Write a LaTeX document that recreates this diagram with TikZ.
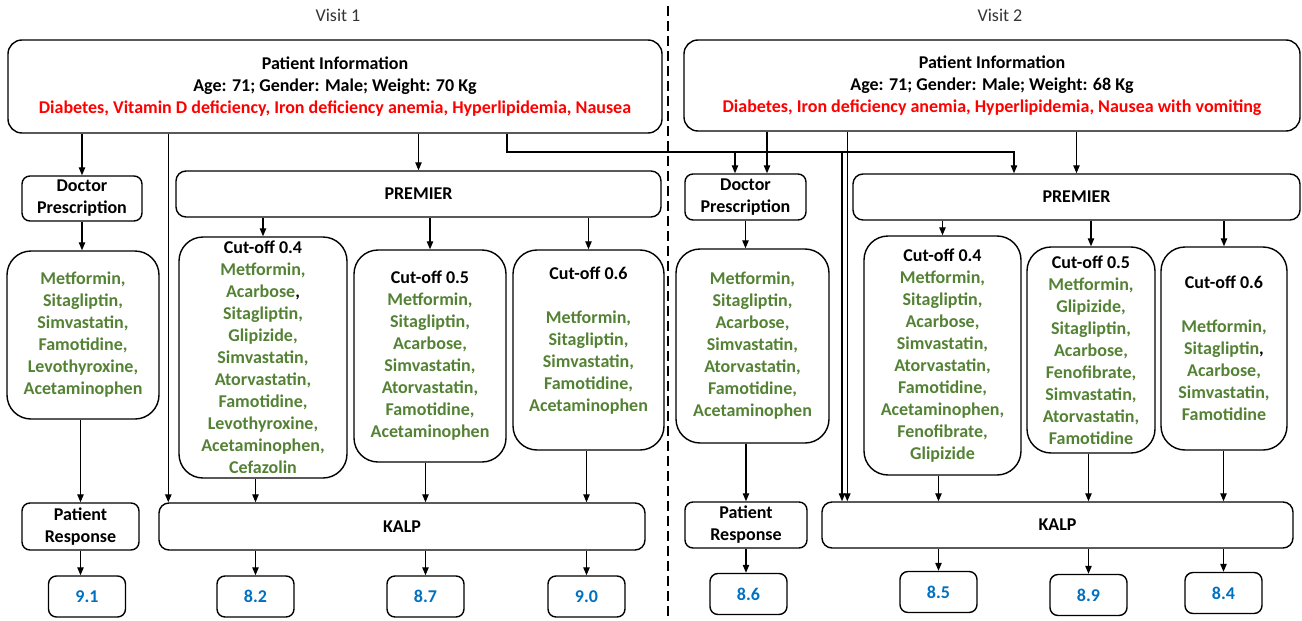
\documentclass[tikz,border=0pt]{standalone}
\usepackage{fontspec}
\setmainfont{Carlito}
\usetikzlibrary{arrows.meta}

\definecolor{druggreen}{HTML}{548235}
\definecolor{diseasered}{HTML}{FF0000}
\definecolor{scoreblue}{HTML}{0070C0}

\begin{document}
\begin{tikzpicture}[x = 0.5pt, y = -0.5pt,
	box/.style = {draw, line width = 0.7pt, rounded corners = #1, align = center, inner sep = 0pt,
		font = \fontsize{9}{11}\selectfont\bfseries, text = black},
	box/.default = 5pt,
	drugs/.style = {box = 12pt, text = druggreen},
	score/.style = {box = 4pt, minimum width = 38.5pt, minimum height = 20.5pt, text = scoreblue},
	link/.style = {line width = 0.65pt},
	arr/.style = {link, -{Triangle[length = 4pt, width = 3.2pt]}}
	]
	%	canvas
	\useasboundingbox (0, 0) rectangle (1302, 621);
	
	\node[font = \fontsize{9}{11}\selectfont, text = black!80] (visit1) at (338, 15) {Visit 1};
	\node[font = \fontsize{9}{11}\selectfont, text = black!80] (visit2) at (1000, 15) {Visit 2};
	\draw[link, dash pattern = on 5pt off 2.5pt] (668, 6) -- (668, 621);
	
	%	visit 1 boxes
	\node[box = 7pt, minimum width = 327pt, minimum height = 46.5pt] (pi1) at (335, 86.5)
		{Patient Information\\ Age: 71; Gender: Male; Weight: 70 Kg\\
		\textcolor{diseasered}{Diabetes, Vitamin D deficiency, Iron deficiency anemia, Hyperlipidemia, Nausea}};
	\node[box = 4pt, minimum width = 60pt, minimum height = 22.5pt] (dp1) at (82, 198.5) {Doctor\\ Prescription};
	\node[box, minimum width = 242.5pt, minimum height = 23pt] (prem1) at (418.5, 194) {PREMIER};
	\node[drugs, minimum width = 76pt, minimum height = 84pt] (drug1) at (83, 335)
		{Metformin,\\ Sitagliptin,\\ Simvastatin,\\ Famotidine,\\ Levothyroxine,\\ Acetaminophen};
	\node[drugs, minimum width = 84pt, minimum height = 120.5pt] (c04a) at (263, 357.5)
		{\textcolor{black}{Cut-off 0.4}\\ Metformin,\\ Acarbose\textcolor{black}{,}\\ Sitagliptin,\\ Glipizide,\\ Simvastatin,\\
		Atorvastatin,\\ Famotidine,\\ Levothyroxine,\\ Acetaminophen,\\ Cefazolin};
	\node[drugs, minimum width = 76pt, minimum height = 106pt] (c05a) at (430, 356)
		{\textcolor{black}{Cut-off 0.5}\\ Metformin,\\ Sitagliptin,\\ Acarbose,\\ Simvastatin,\\ Atorvastatin,\\
		Famotidine,\\ Acetaminophen};
	\node[drugs, minimum width = 75.5pt, minimum height = 100pt] (c06a) at (588.5, 350)
		{\textcolor{black}{Cut-off 0.6}\\[11pt] Metformin,\\ Sitagliptin,\\ Simvastatin,\\ Famotidine,\\ Acetaminophen\\ \mbox{}};
	\node[box = 4pt, minimum width = 58.5pt, minimum height = 23.5pt] (pr1) at (80.5, 526.5) {Patient\\ Response};
	\node[box, minimum width = 243pt, minimum height = 23.5pt] (kalp1) at (402, 526.5) {KALP};
	\node[score] (r91) at (87, 596.5) {9.1};
	\node[score] (r82) at (255.5, 596.5) {8.2};
	\node[score] (r87) at (425.5, 596.5) {8.7};
	\node[score] (r90) at (586.5, 596.5) {9.0};
	
	%	visit 2 boxes
	\node[box = 7pt, minimum width = 308pt, minimum height = 45.5pt] (pi2) at (992, 85.5)
		{Patient Information\\ Age: 71; Gender: Male; Weight: 68 Kg\\
		\textcolor{diseasered}{Diabetes, Iron deficiency anemia, Hyperlipidemia, Nausea with vomiting}};
	\node[box = 4pt, minimum width = 60.5pt, minimum height = 23pt] (dp2) at (745.5, 197) {Doctor\\ Prescription};
	\node[box, minimum width = 223.5pt, minimum height = 23pt] (prem2) at (1076.5, 197) {PREMIER};
	\node[drugs, minimum width = 76.5pt, minimum height = 97pt] (drug2) at (752.5, 346)
		{Metformin,\\ Sitagliptin,\\ Acarbose,\\ Simvastatin,\\ Atorvastatin,\\ Famotidine,\\ Acetaminophen};
	\node[drugs, minimum width = 78.5pt, minimum height = 119.5pt] (c04b) at (942.5, 355.5)
		{\textcolor{black}{Cut-off 0.4}\\ Metformin,\\ Sitagliptin,\\ Acarbose,\\ Simvastatin,\\ Atorvastatin,\\
		Famotidine,\\ Acetaminophen,\\ Fenofibrate,\\ Glipizide};
	\node[drugs, minimum width = 64pt, minimum height = 103pt] (c05b) at (1091, 350)
		{\textcolor{black}{Cut-off 0.5}\\ Metformin,\\ Glipizide,\\ Sitagliptin,\\ Acarbose,\\ Fenofibrate,\\
		Simvastatin,\\ Atorvastatin,\\ Famotidine};
	\node[drugs, minimum width = 63pt, minimum height = 101.5pt] (c06b) at (1224, 348.5)
		{\textcolor{black}{Cut-off 0.6}\\[11pt] Metformin,\\ Sitagliptin\textcolor{black}{,}\\ Acarbose,\\ Simvastatin,\\ Famotidine};
	\node[box = 4pt, minimum width = 61pt, minimum height = 23pt] (pr2) at (746, 525) {Patient\\ Response};
	\node[box, minimum width = 235.5pt, minimum height = 23pt] (kalp2) at (1057.5, 525) {KALP};
	\node[score] (r86) at (748.5, 594) {8.6};
	\node[score] (r85) at (938.5, 592) {8.5};
	\node[score] (r89) at (1088.5, 595) {8.9};
	\node[score] (r84) at (1223.5, 593) {8.4};
	
	%	visit 1 arrows
	\coordinate (k1) at ([xshift = 5pt]kalp1.north west);
	\draw[arr] (pi1.south -| dp1.north) -- (dp1.north);
	\draw[arr] (dp1.south) -- (dp1.south |- drug1.north);
	\draw[arr] (drug1.south -| pr1.north) -- (pr1.north);
	\draw[arr] (pr1.south) -- (pr1.south |- r91.north);
	\draw[arr] (pi1.south -| prem1.north) -- (prem1.north);
	\draw[arr] (pi1.south -| k1) -- (k1);
	\foreach \c/\r in {c04a/r82, c05a/r87, c06a/r90} {
		\draw[arr] (prem1.south -| \c.north) -- (\c.north);
		\draw[arr] (\c.south -| \r.north) -- (\r.north |- kalp1.north);
		\draw[arr] (kalp1.south -| \r.north) -- (\r.north);
	}
	
	%	visit 2 arrows
	\coordinate (d2) at ([xshift = 10.75pt]dp2.north);
	\coordinate (k2) at ([xshift = 13pt]kalp2.north west);
	\draw[arr] (pi2.south -| d2) -- (d2);
	\draw[arr] (pi2.south -| k2) -- (k2);
	\draw[arr] (pi2.south -| prem2.north) -- (prem2.north);
	\draw[arr] (dp2.south) -- (dp2.south |- drug2.north);
	\draw[arr] (drug2.south -| pr2.north) -- (pr2.north);
	\draw[arr] (pr2.south) -- (pr2.south |- r86.north);
	\foreach \c/\r in {c04b/r85, c05b/r89, c06b/r84} {
		\draw[arr] (prem2.south -| \c.north) -- (\c.north);
		\draw[arr] (\c.south -| \r.north) -- (\r.north |- kalp2.north);
		\draw[arr] (kalp2.south -| \r.north) -- (\r.north);
	}
	
	%	visit 1 to visit 2
	\coordinate (j1) at (507, 152);
	\coordinate (j2) at (1014, 152);
	\coordinate (j3) at (735, 152);
	\coordinate (j4) at (842, 152);
	\draw[arr] (pi1.south -| j1) -- (j1) -- (j2) -- (j2 |- prem2.north);
	\draw[arr] (j3) -- (j3 |- dp2.north);
	\draw[arr] (j4) -- (j4 |- kalp2.north);
\end{tikzpicture}
\end{document}
